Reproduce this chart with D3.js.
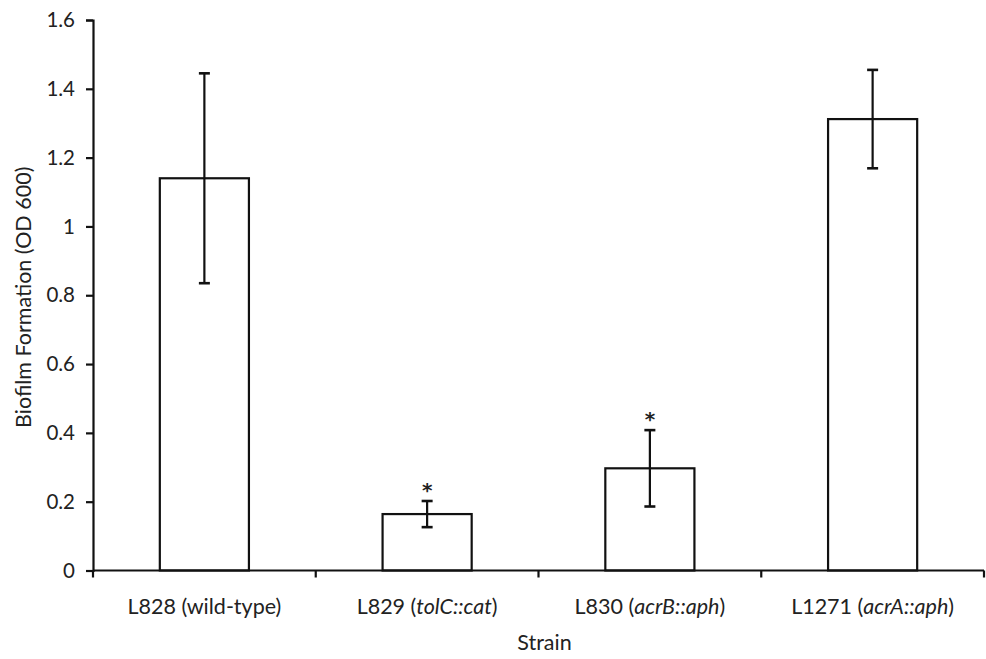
<!DOCTYPE html>
<html><head><meta charset="utf-8">
<script src="https://cdn.jsdelivr.net/npm/d3@7"></script>
<style>body{margin:0;background:#fff}svg{display:block}text{font-family:Lato,"Open Sans",sans-serif;fill:#222}</style>
</head><body>
<svg id="c" width="986" height="659"></svg>
<script>
const categories = [
  [{t:"L828 (wild-type)",i:false}],
  [{t:"L829 (",i:false},{t:"tolC::cat",i:true},{t:")",i:false}],
  [{t:"L830 (",i:false},{t:"acrB::aph",i:true},{t:")",i:false}],
  [{t:"L1271 (",i:false},{t:"acrA::aph",i:true},{t:")",i:false}]
];
const values = [1.14, 0.164, 0.297, 1.312];
const errors = [0.305, 0.038, 0.111, 0.143];
const significant = [false, true, true, false];
const yTicks = [0, 0.2, 0.4, 0.6, 0.8, 1, 1.2, 1.4, 1.6];

const svg = d3.select("#c");
const x0 = 93, x1 = 984, yTop = 20, yBot = 570.5;
const x = d3.scaleBand().domain(d3.range(4)).range([x0, x1]).paddingInner(0.6).paddingOuter(0.3);
const y = d3.scaleLinear().domain([0, 1.6]).range([yBot, yTop]);

// y axis
const ya = svg.append("g").attr("transform", `translate(${x0},0)`)
  .call(d3.axisLeft(y).tickValues(yTicks).tickSize(7).tickPadding(11).tickFormat(d => d3.format("")(d)));
ya.select(".domain").attr("stroke", "#111").attr("stroke-width", 2.2);
ya.selectAll(".tick line").attr("stroke", "#111").attr("stroke-width", 2.2);
ya.selectAll("text").attr("font-size", 20.5).style("font-family", "Lato,'Open Sans',sans-serif").attr("fill", "#222");

// bars
svg.selectAll("rect.bar").data(values).join("rect").attr("class", "bar")
  .attr("x", (d, i) => x(i)).attr("width", x.bandwidth())
  .attr("y", d => y(d)).attr("height", d => yBot - y(d))
  .attr("fill", "#fff").attr("stroke", "#111").attr("stroke-width", 2.2);

// x axis (band boundaries ticks)
const xb = d3.scaleLinear().domain([0, 4]).range([x0, x1]);
svg.append("line").attr("x1", x0).attr("x2", x1).attr("y1", yBot).attr("y2", yBot)
  .attr("stroke", "#111").attr("stroke-width", 2.2);
svg.selectAll("line.xt").data(d3.range(5)).join("line").attr("class", "xt")
  .attr("x1", d => xb(d)).attr("x2", d => xb(d)).attr("y1", yBot).attr("y2", yBot + 7)
  .attr("stroke", "#111").attr("stroke-width", 2.2);

// error bars
const eb = svg.append("g").attr("stroke", "#111").attr("stroke-width", 2.2);
values.forEach((v, i) => {
  const cx = x(i) + x.bandwidth() / 2;
  eb.append("line").attr("x1", cx).attr("x2", cx).attr("y1", y(v + errors[i])).attr("y2", y(v - errors[i]));
  [v + errors[i], v - errors[i]].forEach(e => {
    eb.append("line").attr("x1", cx - 5.5).attr("x2", cx + 5.5).attr("y1", y(e)).attr("y2", y(e)).attr("stroke-width", 2.6);
  });
  if (significant[i]) {
    svg.append("text").attr("x", cx).attr("y", y(v + errors[i]) - 4).attr("text-anchor", "middle")
      .attr("font-size", 20).attr("font-weight", "bold").style("font-family", "'DejaVu Sans',sans-serif").text("*");
  }
});

// category labels
categories.forEach((parts, i) => {
  const t = svg.append("text").attr("x", x(i) + x.bandwidth() / 2).attr("y", 614)
    .attr("text-anchor", "middle").attr("font-size", 21.5);
  parts.forEach(p => t.append("tspan").attr("font-style", p.i ? "italic" : "normal").text(p.t));
});

svg.append("text").attr("x", (x0 + x1) / 2 + 6).attr("y", 650).attr("text-anchor", "middle")
  .attr("font-size", 21.5).text("Strain");
svg.append("text").attr("transform", `translate(31,${(yTop + yBot) / 2 + 2}) rotate(-90)`)
  .attr("text-anchor", "middle").attr("font-size", 21.5).text("Biofilm Formation (OD 600)");
</script>
</body></html>
